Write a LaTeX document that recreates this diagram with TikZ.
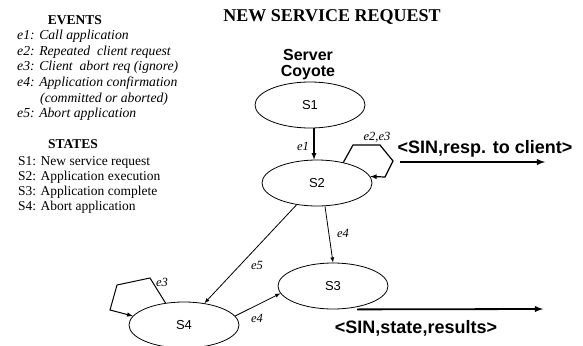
\documentclass[tikz,border=0pt]{standalone}
\usepackage{fontspec}
\setmainfont{Liberation Serif}
\newfontfamily\arialfont{Liberation Sans}
\usetikzlibrary{arrows}
\usetikzlibrary{shapes.geometric}

\begin{document}
\begin{tikzpicture}[x=1pt, y=-1pt,
				   every node/.style={inner sep=0pt},
				   stnode/.style={ellipse, draw=black, line width=0.8pt, minimum width=110pt, minimum height=46pt, font=\arialfont\fontsize{13}{15}\selectfont},
				   lbl/.style={font=\itshape\fontsize{12.5}{14}\selectfont},
				   outlbl/.style={anchor=base, font=\arialfont\bfseries\fontsize{18}{20}\selectfont},
				   heading/.style={anchor=base, font=\bfseries\fontsize{13.5}{15.5}\selectfont},
				   legend/.style={align=left, anchor=north west}]
\useasboundingbox (0,0) rectangle (583,345);

% headings and legend
\node[anchor=base, font=\bfseries\fontsize{18}{20}\selectfont] (title) at (332,22) {NEW SERVICE REQUEST};
\node[heading] (evhead) at (75,25) {EVENTS};
\node[legend, font=\itshape\fontsize{13.7}{15.6}\selectfont] (evlist) at (17,30) {e1: Call application\\
	e2: Repeated\ \ client request\\
	e3: Client\ \ abort req (ignore)\\
	e4: Application confirmation\\
	\hspace*{23pt}(committed or aborted)\\
	e5: Abort application};
\node[heading] (sthead) at (73,148) {STATES};
\node[legend, font=\fontsize{13.5}{15}\selectfont] (stlist) at (18,156) {S1: New service request\\
	S2: Application execution\\
	S3: Application complete\\
	S4: Abort application};

% states
\node[align=center, anchor=north, font=\arialfont\bfseries\fontsize{16}{16}\selectfont] (server) at (308,49) {Server\\Coyote};
\node[stnode] (S1) at (310,105) {S1};
\node[stnode] (S2) at (317,183) {S2};
\node[stnode] (S3) at (333,286) {S3};
\node[stnode] (S4) at (184,325) {S4};

% transitions
\draw[-latex, line width=1.2pt] ([xshift=4pt]S1.south) -- ([xshift=-3pt]S2.north);
\node[lbl] (le1) at (303,146) {e1};
\draw[-latex, line width=1.2pt] (S2.38) -- (353,145) -- (380,145) -- (393,161) -- (385,177) -- (S2.7);
\node[lbl] (le23) at (377,137) {e2,e3};
\draw[-latex, line width=0.8pt] ([xshift=8pt]S2.south) -- (S3.north);
\node[lbl] (le4a) at (343,233) {e4};
\draw[-latex, line width=0.8pt] (S2) -- (S4);
\node[lbl] (le5) at (257,265) {e5};
\draw[-latex, line width=0.8pt] (S4.10) -- (S3.188);
\node[lbl] (le4b) at (257,318) {e4};
\draw[-latex, line width=1pt] (S4.130) -- (150,278) -- (117,285) -- (110,310) -- (S4.170);
\node[lbl] (le3) at (162,282) {e3};

% outputs
\coordinate (respStart) at (400,162);
\coordinate (respEnd) at (545,162);
\draw[-latex, line width=1.8pt] (respStart) -- (respEnd);
\node[outlbl] (resp) at (485,153) {<SIN,resp. to client>};
\coordinate (resEnd) at (543,309);
\draw[-latex, line width=1.8pt] ([xshift=24pt]S3.south) -- (resEnd);
\node[outlbl] (results) at (416,333) {<SIN,state,results>};
\end{tikzpicture}
\end{document}
